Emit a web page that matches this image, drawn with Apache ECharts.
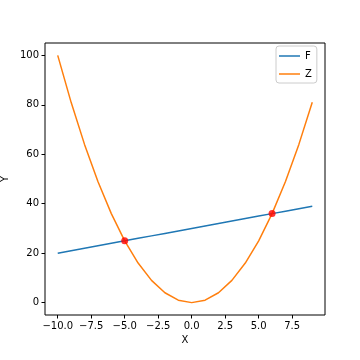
<!DOCTYPE html>
<html>
<head>
<meta charset="utf-8">
<script src="https://cdn.jsdelivr.net/npm/echarts@6/dist/echarts.min.js"></script>
<style>html,body{margin:0;padding:0;background:#fff;}#c{width:360px;height:360px;}</style>
</head>
<body>
<div id="c"></div>
<script>
var xValues = [-10,-9,-8,-7,-6,-5,-4,-3,-2,-1,0,1,2,3,4,5,6,7,8,9];
var fValues = [20,21,22,23,24,25,26,27,28,29,30,31,32,33,34,35,36,37,38,39];
var zValues = [100,81,64,49,36,25,16,9,4,1,0,1,4,9,16,25,36,49,64,81];
var crossX = [-5, 6];
var crossY = [25, 36];
var xTicks = [-10,-7.5,-5,-2.5,0,2.5,5,7.5];
var yTicks = [0,20,40,60,80,100];

function pairs(xs, ys){ return xs.map(function(x,i){ return [x, ys[i]]; }); }
function fmtX(v){ return v.toFixed(1).replace('-', '\u2212'); }
function fmtY(v){ return String(v).replace('-', '\u2212'); }

var font = 'DejaVu Sans';
var chart = echarts.init(document.getElementById('c'), null, {renderer:'canvas'});
chart.setOption({
  animation: false,
  backgroundColor: '#fff',
  textStyle: {fontFamily: font},
  grid: {left: 45, right: 35, top: 43, bottom: 45, containLabel: false, outerBoundsMode: 'none',
         show: true, borderColor: '#000', borderWidth: 1, backgroundColor: 'transparent'},
  legend: {
    orient: 'vertical', left: 276, top: 46,
    data: ['F', 'Z'],
    icon: 'rect', itemWidth: 21, itemHeight: 1.5, itemGap: 8,
    textStyle: {fontFamily: font, fontSize: 10, color: '#000'},
    backgroundColor: 'rgba(255,255,255,0.8)', borderColor: '#ccc', borderWidth: 1, borderRadius: 3,
    padding: [5, 5, 4, 3]
  },
  xAxis: {
    type: 'value', min: -10.95, max: 9.95,
    name: 'X', nameLocation: 'middle', nameGap: 20, nameMoveOverlap: false,
    nameTextStyle: {fontFamily: font, fontSize: 10, color: '#000'},
    axisLine: {show: false, onZero: false},
    axisTick: {show: true, inside: false, length: 3.5, lineStyle: {color: '#000'}, customValues: xTicks},
    axisLabel: {color: '#000', fontFamily: font, fontSize: 10, margin: 6, customValues: xTicks, formatter: fmtX},
    splitLine: {show: false}
  },
  yAxis: {
    type: 'value', min: -5, max: 105,
    name: 'Y', nameLocation: 'middle', nameGap: 35, nameRotate: 90, nameMoveOverlap: false,
    nameTextStyle: {fontFamily: font, fontSize: 10, color: '#000'},
    axisLine: {show: false, onZero: false},
    axisTick: {show: true, inside: false, length: 3.5, lineStyle: {color: '#000'}, customValues: yTicks},
    axisLabel: {color: '#000', fontFamily: font, fontSize: 10, margin: 6, customValues: yTicks, formatter: fmtY},
    splitLine: {show: false}
  },
  series: [
    {name: 'F', type: 'line', data: pairs(xValues, fValues), showSymbol: false, symbol: 'none',
     lineStyle: {color: '#1f77b4', width: 1.5}, itemStyle: {color: '#1f77b4'}, z: 2},
    {name: 'Z', type: 'line', data: pairs(xValues, zValues), showSymbol: false, symbol: 'none',
     lineStyle: {color: '#ff7f0e', width: 1.5}, itemStyle: {color: '#ff7f0e'}, z: 3},
    {name: 'points', type: 'scatter', data: pairs(crossX, crossY), symbol: 'circle', symbolSize: 7,
     itemStyle: {color: '#ff0000'}, z: 4}
  ]
});
</script>
</body>
</html>
